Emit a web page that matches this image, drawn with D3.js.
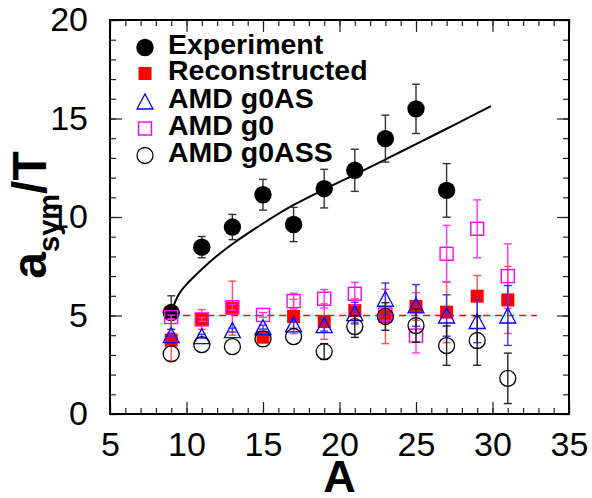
<!DOCTYPE html>
<html>
<head>
<meta charset="utf-8">
<script src="https://cdn.jsdelivr.net/npm/d3@7"></script>
<style>
  html, body { margin: 0; padding: 0; background: #fff; }
  svg { display: block; font-family: "Liberation Sans", Arial, Helvetica, sans-serif; }
</style>
</head>
<body>
<svg id="chart" width="592" height="498"></svg>
<script>
// ---- data ----
const massNumbers = [9, 11, 13, 15, 17, 19, 21, 23, 25, 27, 29, 31];

const expA   = [9, 11, 13, 15, 17, 19, 21, 23, 25, 27];
const expY   = [5.15, 8.47, 9.49, 11.13, 9.62, 11.44, 12.37, 13.98, 15.49, 11.35];
const expErr = [0.85, 0.54, 0.64, 0.78, 0.87, 0.98, 1.07, 1.19, 1.25, 1.36];

const recoY   = [3.75, 4.80, 5.37, 3.90, 4.95, 4.69, 5.25, 4.95, 5.46, 5.17, 5.98, 5.79];
const recoErr = [1.05, 0.50, 1.37, 0.15, 0.87, 0.90, 0.60, 1.38, 0.70, 1.55, 1.05, 1.70];

const g0Y   = [4.92, 4.80, 5.42, 5.03, 5.73, 5.85, 6.10, 5.05, 3.98, 8.13, 9.40, 7.00];
const g0Err = [0.10, 0.10, 0.15, 0.12, 0.40, 0.47, 0.58, 0.30, 0.88, 1.44, 1.47, 1.64];

const g0ASY   = [4.00, 3.95, 4.26, 4.41, 4.55, 4.51, 5.12, 5.85, 5.51, 5.00, 4.72, 5.00];
const g0ASErr = [0.10, 0.10, 0.10, 0.10, 0.20, 0.30, 0.55, 0.80, 1.06, 1.05, 1.10, 1.52];

const g0ASSY   = [3.05, 3.52, 3.42, 3.81, 3.93, 3.17, 4.44, 4.95, 4.49, 3.47, 3.73, 1.81];
const g0ASSErr = [0.00, 0.00, 0.00, 0.00, 0.00, 0.40, 0.55, 0.70, 0.85, 1.00, 1.26, 1.28];

// fitted trend curve
const fitA = [9.0, 9.5, 10.0, 11.0, 12.0, 13.0, 15.0, 17.0, 19.0, 21.0, 23.0, 25.0, 27.0, 29.0, 29.9];
const fitY = [5.19, 6.08, 6.58, 7.35, 8.03, 8.63, 9.67, 10.61, 11.40, 12.15, 12.92, 13.70, 14.48, 15.27, 15.63];

// reference dashed line
const refLineA = [9.0, 32.9];
const refLineY = [5, 5];

const xTicks = [5, 10, 15, 20, 25, 30, 35];
const yTicks = [0, 5, 10, 15, 20];

const legendLabels = ["Experiment", "Reconstructed", "AMD g0AS", "AMD g0", "AMD g0ASS"];

// ---- layout ----
const svg = d3.select("#chart");
const L = 110, R = 569, T = 20, B = 414;

const x = d3.scaleLinear().domain([5, 35]).range([L, R]);
const y = d3.scaleLinear().domain([0, 20]).range([B, T]);

const C = { black: "#000", red: "#ff0000", blue: "#0000ff", mag: "#ff00ff" };

// ---- axes (ticks inward on all four sides) ----
const tickMinorX = d3.range(5, 35.01, 1);
const tickMinorY = d3.range(0, 20.01, 1);

function axisGroup(axis, tx, ty) {
  const g = svg.append("g").attr("transform", `translate(${tx},${ty})`).call(axis);
  g.select(".domain").remove();
  g.selectAll("line").attr("stroke", "#222").attr("stroke-width", 1.2);
  return g;
}
// minor
axisGroup(d3.axisBottom(x).tickValues(tickMinorX).tickSize(-6).tickFormat(""), 0, B);
axisGroup(d3.axisTop(x).tickValues(tickMinorX).tickSize(-6).tickFormat(""), 0, T);
axisGroup(d3.axisLeft(y).tickValues(tickMinorY).tickSize(-6).tickFormat(""), L, 0);
axisGroup(d3.axisRight(y).tickValues(tickMinorY).tickSize(-6).tickFormat(""), R, 0);
// major with labels
const gx = axisGroup(d3.axisBottom(x).tickValues(xTicks).tickSize(-12).tickPadding(18).tickFormat(d3.format("d")), 0, B);
gx.selectAll("text").attr("font-size", 34).attr("fill", "#000")
  .attr("font-family", '"Liberation Sans", Arial, sans-serif');
axisGroup(d3.axisTop(x).tickValues(xTicks).tickSize(-12).tickFormat(""), 0, T);
const gy = axisGroup(d3.axisLeft(y).tickValues(yTicks).tickSize(-12).tickPadding(22).tickFormat(d3.format("d")), L, 0);
gy.selectAll("text").attr("font-size", 34).attr("fill", "#000")
  .attr("font-family", '"Liberation Sans", Arial, sans-serif');
axisGroup(d3.axisRight(y).tickValues(yTicks).tickSize(-12).tickFormat(""), R, 0);

// frame
svg.append("rect").attr("x", L).attr("y", T).attr("width", R - L).attr("height", B - T)
  .attr("fill", "none").attr("stroke", "#000").attr("stroke-width", 2);

// axis titles
svg.append("text").attr("x", (L + R) / 2).attr("y", 492).attr("text-anchor", "middle")
  .attr("font-size", 45).attr("font-weight", "bold").text("A");

const yt = svg.append("text").attr("transform", "translate(46,215) rotate(-90)")
  .attr("text-anchor", "middle").attr("font-weight", "bold").attr("font-size", 48);
yt.append("tspan").text("a");
yt.append("tspan").attr("font-size", 29).attr("dy", 13).text("sym");
yt.append("tspan").attr("dy", -13).text("/T");

// ---- dashed reference line ----
svg.append("path")
  .datum(refLineA.map((a, i) => [a, refLineY[i]]))
  .attr("d", d3.line().x(d => x(d[0])).y(d => y(d[1])))
  .attr("fill", "none").attr("stroke", C.red).attr("stroke-width", 1.6).attr("stroke-dasharray", "7,5");

// ---- fit curve ----
svg.append("path")
  .datum(fitA.map((a, i) => [a, fitY[i]]))
  .attr("d", d3.line().x(d => x(d[0])).y(d => y(d[1])).curve(d3.curveCatmullRom))
  .attr("fill", "none").attr("stroke", "#000").attr("stroke-width", 2);

// ---- markers ----
function drawMarker(g, type, cx, cy, color) {
  if (type === "fcircle") {
    g.append("circle").attr("cx", cx).attr("cy", cy).attr("r", 8.7).attr("fill", color);
  } else if (type === "ocircle") {
    g.append("circle").attr("cx", cx).attr("cy", cy).attr("r", 8).attr("fill", "none")
      .attr("stroke", color).attr("stroke-width", 1.3);
  } else if (type === "fsquare") {
    g.append("rect").attr("x", cx - 6.5).attr("y", cy - 6.5).attr("width", 13).attr("height", 13).attr("fill", color);
  } else if (type === "osquare") {
    g.append("rect").attr("x", cx - 6.5).attr("y", cy - 6.5).attr("width", 13).attr("height", 13)
      .attr("fill", "none").attr("stroke", color).attr("stroke-width", 1.4);
  } else if (type === "otri") {
    const h = 15, w = 16;
    g.append("path").attr("d", `M${cx},${cy - h / 2}L${cx + w / 2},${cy + h / 2}L${cx - w / 2},${cy + h / 2}Z`)
      .attr("fill", "none").attr("stroke", color).attr("stroke-width", 1.3);
  }
}

function drawSeries(as, ys, errs, type, color, barColor) {
  const g = svg.append("g");
  as.forEach((a, i) => {
    if (!(errs[i] > 0)) return;
    const cx = x(a), y0 = y(ys[i] - errs[i]), y1 = y(ys[i] + errs[i]);
    g.append("line").attr("x1", cx).attr("x2", cx).attr("y1", y0).attr("y2", y1)
      .attr("stroke", barColor).attr("stroke-width", 1.4);
    [y0, y1].forEach(yy => g.append("line").attr("x1", cx - 4).attr("x2", cx + 4)
      .attr("y1", yy).attr("y2", yy).attr("stroke", barColor).attr("stroke-width", 1.4));
  });
  as.forEach((a, i) => drawMarker(g, type, x(a), y(ys[i]), color));
}

drawSeries(expA, expY, expErr, "fcircle", C.black, "#333");
drawSeries(massNumbers, recoY, recoErr, "fsquare", C.red, "#ff5555");
drawSeries(massNumbers, g0Y, g0Err, "osquare", C.mag, "#ff33ff");
drawSeries(massNumbers, g0ASY, g0ASErr, "otri", C.blue, "#3333ff");
drawSeries(massNumbers, g0ASSY, g0ASSErr, "ocircle", C.black, "#222");

// ---- legend ----
const legTypes = ["fcircle", "fsquare", "otri", "osquare", "ocircle"];
const legColors = [C.black, C.red, C.blue, C.mag, C.black];
const legBase = [54, 80, 108, 135, 162];
const lg = svg.append("g");
legendLabels.forEach((lab, i) => {
  drawMarker(lg, legTypes[i], 145, legBase[i] - 6.5, legColors[i]);
  lg.append("text").attr("x", 168).attr("y", legBase[i]).attr("font-size", 28.5)
    .attr("font-weight", "bold").text(lab);
});
</script>
</body>
</html>
